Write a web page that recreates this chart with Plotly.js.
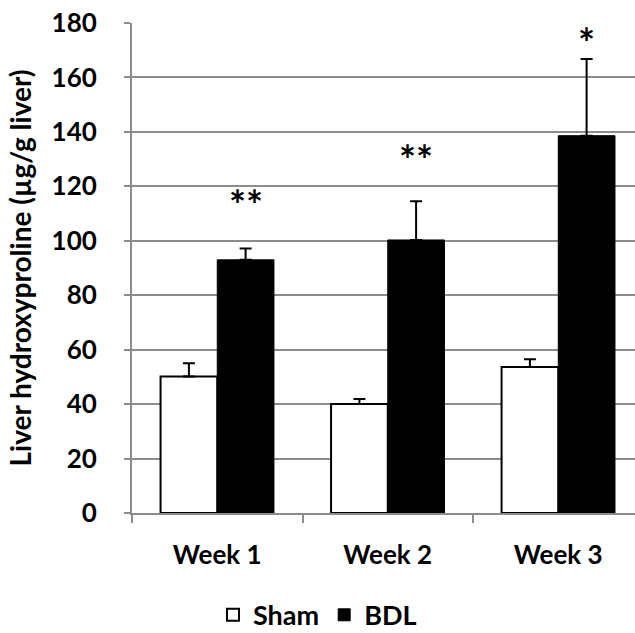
<!DOCTYPE html>
<html>
<head>
<meta charset="utf-8">
<script src="https://cdn.plot.ly/plotly-3.0.1.min.js"></script>
<style>
  html, body { margin: 0; padding: 0; background: #fff; overflow: hidden; }
  #chart { width: 635px; height: 633px; }
</style>
</head>
<body>
<div id="chart"></div>
<script>
// Liver hydroxyproline content, sham vs bile duct ligation (BDL)
const weeks = ['Week 1', 'Week 2', 'Week 3'];
const shamMean = [50.1, 40.0, 53.6];
const shamErr = [4.9, 1.9, 2.9];
const bdlMean = [93.0, 100.3, 138.6];
const bdlErr = [4.2, 14.2, 28.2];
const significance = ['**', '**', '*'];
const yTicks = [0, 20, 40, 60, 80, 100, 120, 140, 160, 180];

const FONT = 'Lato, "Open Sans", sans-serif';
const GRID = '#8c8c8c';

const zeros = weeks.map(() => 0);

const traces = [
  {
    type: 'bar', name: 'Sham', x: weeks, y: shamMean,
    marker: { color: '#ffffff', line: { color: '#000000', width: 2 } },
    error_y: { type: 'data', symmetric: false, array: shamErr, arrayminus: zeros,
               color: '#000000', thickness: 2, width: 6 }
  },
  {
    type: 'bar', name: 'BDL', x: weeks, y: bdlMean,
    marker: { color: '#000000', line: { color: '#000000', width: 1 } },
    error_y: { type: 'data', symmetric: false, array: bdlErr, arrayminus: zeros,
               color: '#000000', thickness: 2, width: 6 }
  }
];

// significance markers sit above the BDL error bars
const markOffset = [16, 15, 6];
const bdlShift = (1 - 0.335) / 4;
const annotations = weeks.map((w, i) => ({
  xref: 'x', yref: 'y',
  x: i + bdlShift, y: bdlMean[i] + bdlErr[i] + markOffset[i],
  text: significance[i], showarrow: false,
  yanchor: 'middle', xanchor: 'center',
  font: { family: FONT, size: 40, color: '#000', weight: 700 }
}));

const layout = {
  width: 635, height: 633,
  margin: { l: 132, r: 0, t: 23, b: 120 },
  paper_bgcolor: '#ffffff', plot_bgcolor: '#ffffff',
  font: { family: FONT, size: 26, color: '#000', weight: 700 },
  barmode: 'group', bargap: 0.335, bargroupgap: 0,
  showlegend: true,
  legend: {
    orientation: 'h', xref: 'container', yref: 'container',
    x: 0.5, xanchor: 'center', y: 0.028, yanchor: 'middle',
    font: { family: FONT, size: 27, color: '#000', weight: 700 },
    itemwidth: 30, traceorder: 'normal'
  },
  xaxis: {
    type: 'category', range: [-0.5, 2.45],
    showline: true, linecolor: GRID, linewidth: 2,
    ticks: 'outside', tickson: 'boundaries', ticklen: 8, tickcolor: GRID, tickwidth: 2,
    showgrid: false, zeroline: false,
    tickfont: { family: FONT, size: 26, color: '#000', weight: 700 },
    ticklabelstandoff: 18
  },
  yaxis: {
    range: [0, 180], tickvals: yTicks,
    showline: true, linecolor: GRID, linewidth: 2,
    ticks: 'outside', ticklen: 6, tickcolor: GRID, tickwidth: 2,
    showgrid: true, gridcolor: GRID, gridwidth: 2, zeroline: false,
    tickfont: { family: FONT, size: 26, color: '#000', weight: 700 },
    ticklabelstandoff: 22,
    title: { text: 'Liver hydroxyproline (µg/g liver)', standoff: 12,
             font: { family: FONT, size: 28, color: '#000', weight: 700 } }
  },
  annotations: annotations
};

Plotly.newPlot('chart', traces, layout, { displayModeBar: false, staticPlot: true });
</script>
</body>
</html>
